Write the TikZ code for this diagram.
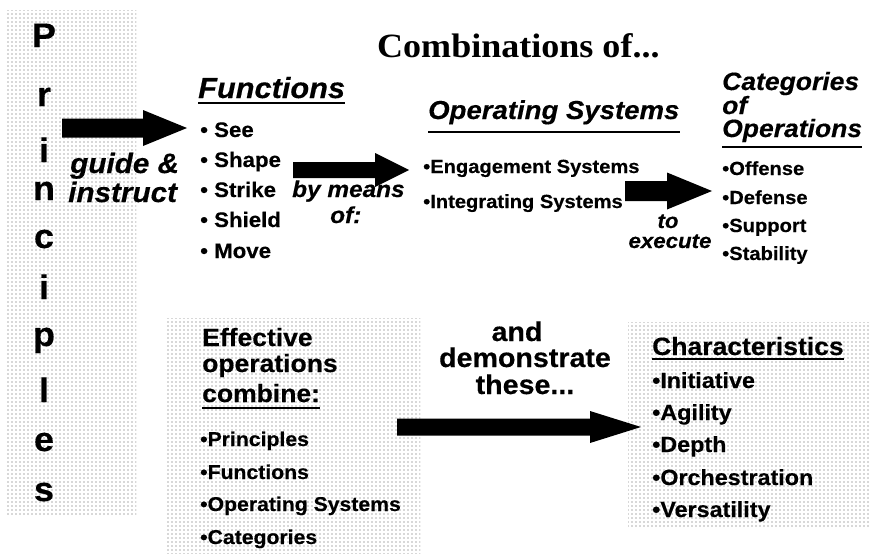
\documentclass[tikz,border=0pt]{standalone}
\usepackage{fontspec}
\setmainfont{Liberation Sans}[FakeStretch=1.06,BoldFeatures={FakeBold=0.4},BoldItalicFeatures={FakeBold=0.4}]
\newfontfamily\titlefont{Liberation Serif}[FakeStretch=1.06]
\usetikzlibrary{calc,patterns.meta}
\tikzdeclarepattern{
  name=halftone,
  type=uncolored,
  bounding box={(-1pt,-1pt) and (1pt,1pt)},
  tile size={(4pt,4pt)},
  code={\fill (0pt,0pt) circle[radius=0.55pt];}
}
\newcommand\fatarrow[5]{%
  \fill let \p1=(#1), \p2=(#2) in
    (\x1,\y1+#3pt) -- (\x2-#4pt,\y1+#3pt) -- (\x2-#4pt,\y1+#5pt) -- (\x2,\y2)
    -- (\x2-#4pt,\y1-#5pt) -- (\x2-#4pt,\y1-#3pt) -- (\x1,\y1-#3pt) -- cycle;}
\newcommand\fs[1]{\fontsize{#1}{#1}\selectfont}
\begin{document}
\begin{tikzpicture}[x=1pt,y=-1pt,
  every node/.style={inner sep=0pt,anchor=base west},
  dotted area/.style={pattern=halftone,pattern color=black!65},
  bigletter/.style={anchor=base,font=\fs{34}\bfseries},
  heading/.style={font=\fs{26}\bfseries\itshape},
  remark/.style={font=\fs{28}\bfseries\itshape},
  smallremark/.style={font=\fs{22}\bfseries\itshape},
  item/.style={font=\fs{20}\bfseries},
  boxhead/.style={font=\fs{25}\bfseries},
  middletext/.style={anchor=base,font=\fs{27}\bfseries},
  uline/.style={line width=2pt}]
\useasboundingbox (0,0) rectangle (878,554);
\fill[white] (0,0) rectangle (878,554);
% halftone areas
\path[dotted area] (6,10) rectangle (136,514);
\path[dotted area] (166,318) rectangle (420,554);
\path[dotted area] (628,322) rectangle (870,528);
% Principles column
\node[bigletter] (l1) at (44,47) {P};
\node[bigletter] (l2) at (44,106) {r};
\node[bigletter] (l3) at (44,162) {i};
\node[bigletter] (l4) at (44,200) {n};
\node[bigletter] (l5) at (44,248) {c};
\node[bigletter] (l6) at (44,299) {i};
\node[bigletter] (l7) at (44,346) {p};
\node[bigletter] (l8) at (44,402) {l};
\node[bigletter] (l9) at (44,451) {e};
\node[bigletter] (l10) at (44,501) {s};
% title
\node[font=\titlefont\fs{34}\bfseries] (title) at (377,57) {Combinations of...};
% Functions
\node[heading,font=\fs{29}\bfseries\itshape] (fun) at (198,98) {Functions};
\draw[uline] ($(fun.base west)+(0,5)$) -- ($(fun.base east)+(0,5)$);
\node[item,font=\fs{21}\bfseries] (f1) at (200,137) {• See};
\node[item,font=\fs{21}\bfseries] (f2) at (200,167) {• Shape};
\node[item,font=\fs{21}\bfseries] (f3) at (200,197) {• Strike};
\node[item,font=\fs{21}\bfseries] (f4) at (200,227) {• Shield};
\node[item,font=\fs{21}\bfseries] (f5) at (200,258) {• Move};
\node[remark] (g1) at (70,173) {guide \&};
\node[remark] (g2) at (68,202) {instruct};
% arrow 1
\coordinate (a1s) at (62,128);
\coordinate (a1t) at (187,128);
\fatarrow{a1s}{a1t}{9.5}{44}{18}
% Operating systems
\node[heading] (os) at (428,119) {Operating Systems};
\draw[uline] ($(os.base west)+(0,13)$) -- ($(os.base east)+(0,13)$);
\node[item,font=\fs{19}\bfseries] (o1) at (423,173) {•Engagement Systems};
\node[item,font=\fs{19}\bfseries] (o2) at (423,208) {•Integrating Systems};
\node[smallremark,font=\fs{23}\bfseries\itshape] (b1) at (292,197) {by means};
\node[smallremark,font=\fs{23}\bfseries\itshape] (b2) at (330,223) {of:};
% arrow 2
\coordinate (a2s) at (293,170);
\coordinate (a2t) at (409,170);
\fatarrow{a2s}{a2t}{8}{34}{17}
% Categories
\node[heading,font=\fs{25}\bfseries\itshape] (c1) at (722,90) {Categories};
\node[heading,font=\fs{25}\bfseries\itshape] (c2) at (722,114) {of};
\node[heading,font=\fs{25}\bfseries\itshape] (c3) at (722,137) {Operations};
\draw[uline] ($(c3.base west)+(0,10)$) -- ($(c3.base east)+(0,10)$);
\node[item,font=\fs{19}\bfseries] (k1) at (722,175) {•Offense};
\node[item,font=\fs{19}\bfseries] (k2) at (722,204) {•Defense};
\node[item,font=\fs{19}\bfseries] (k3) at (722,232) {•Support};
\node[item,font=\fs{19}\bfseries] (k4) at (722,260) {•Stability};
\node[smallremark,anchor=base,font=\fs{21}\bfseries\itshape] (t1) at (668,228) {to};
\node[smallremark,anchor=base,font=\fs{21}\bfseries\itshape] (t2) at (670,248) {execute};
% arrow 3
\coordinate (a3s) at (625,191);
\coordinate (a3t) at (712,191);
\fatarrow{a3s}{a3t}{10}{45}{18.5}
% bottom left box
\node[boxhead] (e1) at (202,346) {Effective};
\node[boxhead] (e2) at (202,372) {operations};
\node[boxhead] (e3) at (202,402) {combine:};
\draw[uline] ($(e3.base west)+(0,6)$) -- ($(e3.base east)+(0,6)$);
\node[item] (p1) at (200,446) {•Principles};
\node[item] (p2) at (200,479) {•Functions};
\node[item] (p3) at (200,511) {•Operating Systems};
\node[item] (p4) at (200,544) {•Categories};
% middle
\node[middletext] (m1) at (517,341) {and};
\node[middletext] (m2) at (525,367) {demonstrate};
\node[middletext] (m3) at (525,394) {these...};
% arrow 4
\coordinate (a4s) at (397,427);
\coordinate (a4t) at (641,427);
\fatarrow{a4s}{a4t}{8.5}{51}{16}
% right box
\node[boxhead] (ch) at (652,355) {Characteristics};
\draw[uline] ($(ch.base west)+(0,4)$) -- ($(ch.base east)+(0,4)$);
\node[item,font=\fs{22}\bfseries] (r1) at (652,388) {•Initiative};
\node[item,font=\fs{22}\bfseries] (r2) at (652,420) {•Agility};
\node[item,font=\fs{22}\bfseries] (r3) at (652,452) {•Depth};
\node[item,font=\fs{22}\bfseries] (r4) at (652,485) {•Orchestration};
\node[item,font=\fs{22}\bfseries] (r5) at (652,517) {•Versatility};
\end{tikzpicture}
\end{document}
